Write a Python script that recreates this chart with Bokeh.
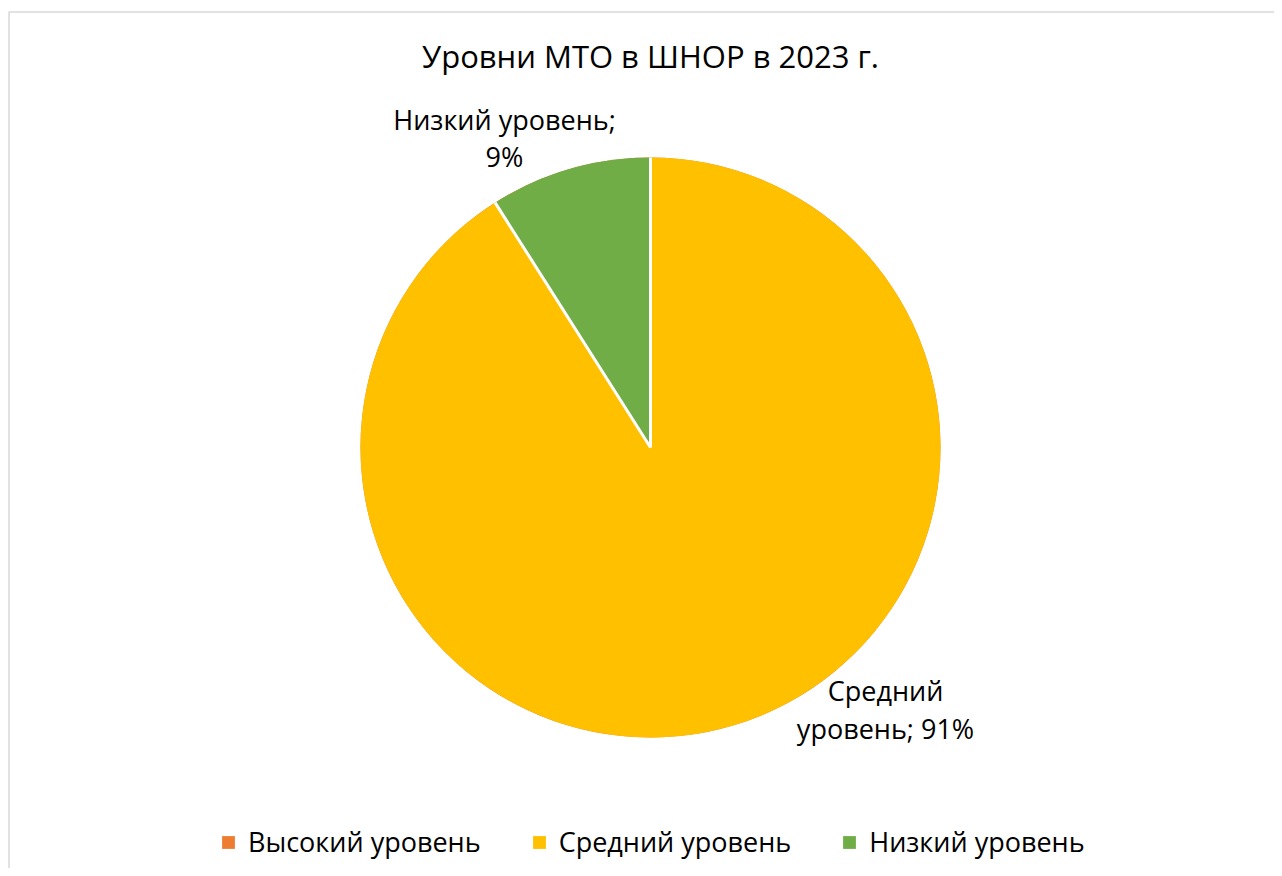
import math
from bokeh.plotting import figure
from bokeh.models import Range1d, Label, Legend, LegendItem, ColumnDataSource
from bokeh.core.properties import value
from bokeh.embed import file_html
from bokeh.resources import INLINE

# ---- data ----
title_text = "Уровни МТО в ШНОР в 2023 г."
categories = ["Высокий уровень", "Средний уровень", "Низкий уровень"]
values = [0, 91, 9]
colors = ["#ED7D31", "#FFC000", "#70AD47"]

# ---- layout ----
W, H = 1274, 868
FONT = "Open Sans"
cx, cy, R = 650, 421, 290
# data label baselines for non-zero slices
label_pos = {
    "Средний уровень": [(885, 178.5), (885, 140)],
    "Низкий уровень": [(504, 749), (504, 712)],
}
label_break = {"Средний уровень": 1, "Низкий уровень": 2}

p = figure(width=W, height=H, output_backend="svg", toolbar_location=None,
           x_range=Range1d(0, W), y_range=Range1d(0, H), min_border=0)
p.axis.visible = False
p.grid.visible = False
p.outline_line_color = None
p.background_fill_color = "white"
p.border_fill_color = "white"

# chart border
p.quad(left=[8.5], right=[W + 50], bottom=[-50], top=[H - 11.5],
       fill_color=None, line_color="#D9D9D9", line_width=1.5)

total = sum(values)
starts, ends = [], []
a = math.pi / 2
for v in values:
    starts.append(a)
    a -= v / total * 2 * math.pi
    ends.append(a)

src = ColumnDataSource(dict(cat=categories, val=values, color=colors,
                            start=starts, end=ends))
r = p.wedge(x=cx, y=cy, radius=R, start_angle="start", end_angle="end",
            direction="clock", fill_color="color", line_color=None, source=src)

# white separators between slices
bounds = [s for s, v in zip(starts, values) if v > 0]
p.ray(x=[cx] * len(bounds), y=[cy] * len(bounds), length=R, angle=bounds,
      line_color="white", line_width=3)

# data labels
lx, ly, lt = [], [], []
for c, v in zip(categories, values):
    if v <= 0:
        continue
    words = (c + ";").split(" ") + [f"{round(v / total * 100)}%"]
    k = label_break[c]
    lines = [" ".join(words[:k]), " ".join(words[k:])]
    for (x, y), t in zip(label_pos[c], lines):
        lx.append(x); ly.append(y); lt.append(t)
p.text(x=lx, y=ly, text=lt, text_align="center", text_baseline="alphabetic",
       text_font=value(FONT), text_font_size="27px", text_color="#000000")

p.add_layout(Label(x=650, y=813, text=title_text, text_align="center",
                   text_baseline="alphabetic", text_font=FONT,
                   text_font_size="31px", text_color="#000000"))

items = [LegendItem(label=c, renderers=[r], index=i) for i, c in enumerate(categories)]
legend = Legend(items=items, orientation="horizontal", location=(220, 8),
                glyph_width=16, glyph_height=16, label_standoff=12, spacing=50,
                label_text_font=FONT, label_text_font_size="27px",
                label_text_color="#000000", border_line_color=None,
                background_fill_alpha=0, padding=0, margin=0)
p.add_layout(legend)

open("out.html", "w").write(file_html(p, INLINE))
